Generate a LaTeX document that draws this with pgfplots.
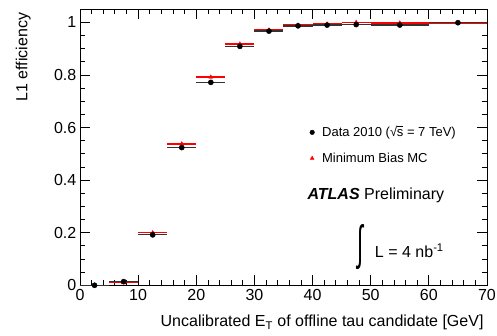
\documentclass[border=0pt]{standalone}
\usepackage{pgfplots}
\usepackage{pgfplotstable}
\pgfplotsset{compat=1.18}
\usepackage{fontspec}
\setmainfont{Liberation Sans}
\usepackage{graphicx}

\pgfplotstableread{
x    xerr ydata ymc
2.5  2.5  0.000 0.000
7.5  2.5  0.014 0.010
12.5 2.5  0.192 0.200
17.5 2.5  0.524 0.538
22.5 2.5  0.772 0.792
27.5 2.5  0.909 0.918
32.5 2.5  0.967 0.971
37.5 2.5  0.987 0.990
42.5 2.5  0.990 0.994
47.5 2.5  0.992 1.000
55   5    0.990 0.998
65   5    0.999 0.998
}\eff

\begin{document}
\begin{tikzpicture}
\begin{axis}[name=ax, scale only axis, width=407bp, height=276bp,
  xmin=0, xmax=70, ymin=0, ymax=1.05,
  xtick={0,10,...,70}, minor x tick num=4,
  ytick={0,0.2,0.4,0.6,0.8,1}, minor y tick num=3,
  yticklabels={0,0.2,0.4,0.6,0.8,1},
  tick align=inside,
  major tick length=10bp, minor tick length=5bp,
  axis line style={line width=0.9bp},
  tick style={line width=0.8bp, black},
  /pgf/number format/assume math mode=true,
  ticklabel style={font=\fontsize{16bp}{19bp}\selectfont},
  yticklabel style={inner sep=0pt, xshift=-3.5bp},
  xticklabel style={inner sep=0pt, yshift=-4bp},
  xlabel={Uncalibrated E\textsubscript{T} of offline tau candidate [GeV]},
  ylabel={L1 efficiency},
  every axis x label/.style={at={(axis description cs:1,-0.15)}, anchor=base east, font=\fontsize{16bp}{19bp}\selectfont},
  every axis y label/.style={at={(axis description cs:-0.129,1)}, rotate=90, anchor=base east, font=\fontsize{16bp}{19bp}\selectfont},
  clip=false,
  legend style={at={(axis cs:39.5,0.613)}, anchor=north west, draw=none, fill=none,
    font=\fontsize{13bp}{15bp}\selectfont, row sep=10.5bp, inner sep=0pt,
    nodes={inner sep=2bp}},
  legend image code/.code={\path[draw=none, fill=none] (0bp,0bp) -- (8bp,0bp); \draw[#1] plot coordinates {(0bp,0bp)};},
  legend cell align=left,
]
\addplot[forget plot, only marks, mark=triangle*, mark size=2.3bp, red,
  error bars/.cd, x dir=both, x explicit, error mark=none,
  error bar style={line width=1.3bp, red}]
  table[x=x, y=ymc, x error=xerr]{\eff};
\addplot[forget plot, only marks, mark=*, mark size=2.6bp, black,
  error bars/.cd, x dir=both, x explicit, error mark=none,
  error bar style={line width=1.3bp, black!80}]
  table[x=x, y=ydata, x error=xerr]{\eff};
\addlegendimage{only marks, mark=*, mark size=2.3bp, black}
\addlegendentry{Data 2010 (√\kern-0.3bp\makebox[0pt][l]{\rule[9.9bp]{6.3bp}{0.6bp}}s = 7 TeV)}
\addlegendimage{only marks, mark=triangle*, mark size=2.2bp, red}
\addlegendentry{Minimum Bias MC}
\node[anchor=base west, inner sep=0pt, font=\fontsize{16bp}{19bp}\selectfont] at (axis cs:39.1,0.325) {\textbf{\textit{ATLAS}} Preliminary};
\node[anchor=center, inner sep=0pt] at (axis cs:48.2,0.144) {\resizebox{6bp}{35bp}{∫}};
\node[anchor=base west, inner sep=0pt, font=\fontsize{16bp}{19bp}\selectfont] at (axis cs:50.7,0.1066) {L = 4 nb\textsuperscript{-1}};
\end{axis}
\pgfresetboundingbox
\path[use as bounding box] ([shift={(-80bp,-50.7bp)}]ax.south west) rectangle ([shift={(10bp,9.3bp)}]ax.north east);
\end{tikzpicture}
\end{document}
